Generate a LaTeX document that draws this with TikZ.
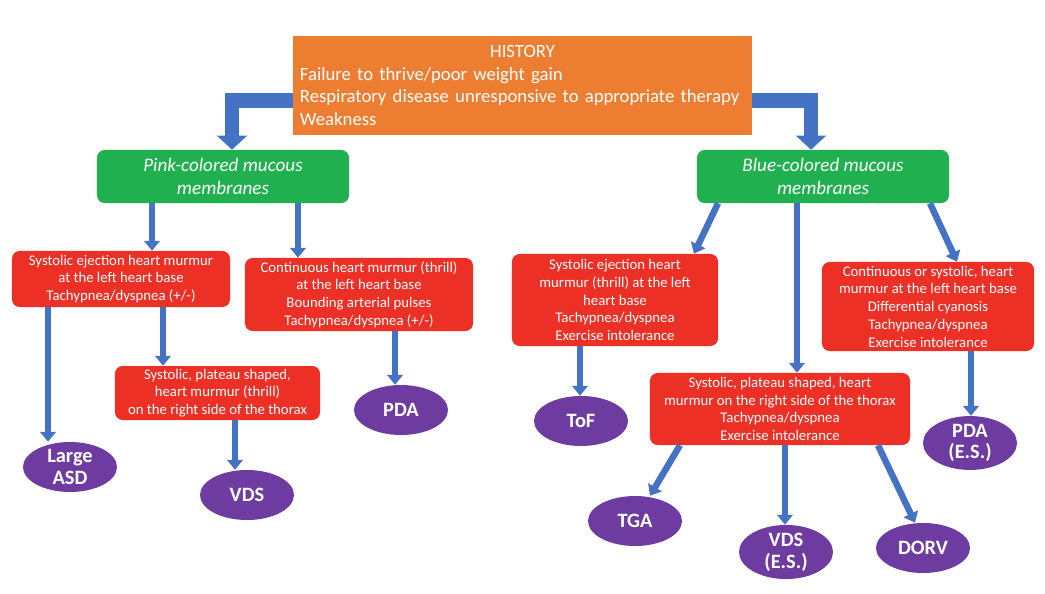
\documentclass[tikz,border=0pt]{standalone}
\usepackage{fontspec}
\setmainfont{Carlito}
\usetikzlibrary{arrows.meta,shapes.geometric,calc}
\definecolor{histo}{RGB}{237,125,49}
\definecolor{mucg}{RGB}{33,176,80}
\definecolor{murr}{RGB}{236,48,38}
\definecolor{dxp}{RGB}{110,60,160}
\definecolor{arrb}{RGB}{68,114,196}

\begin{document}
\begin{tikzpicture}[x=0.025cm, y=-0.025cm,
  mucbox/.style={fill=mucg, text=white, rounded corners=5.5pt, align=center,
    minimum width=6.3cm, minimum height=1.325cm, inner sep=0pt,
    font=\fontsize{13.6}{16.4}\selectfont\itshape},
  murbox/.style={fill=murr, text=white, rounded corners=5.5pt, align=center,
    inner sep=0pt, font=\fontsize{10.5}{12.6}\selectfont},
  dx/.style={ellipse, fill=dxp, text=white, align=center, inner sep=0pt,
    minimum width=2.35cm, minimum height=1.25cm,
    font=\fontsize{14.5}{15.5}\selectfont\bfseries},
  flow/.style={draw=arrb, line width=4.6pt, -{Triangle[width=11pt,length=7pt]}},
  bigflow/.style={draw=arrb, line width=10.5pt, -{Triangle[width=21pt,length=10pt]}}]
\useasboundingbox (0,0) rectangle (1045,593);

% history
\node[fill=histo, text=white, text width=11.125cm, align=left, inner sep=0pt,
  minimum width=11.475cm, minimum height=2.475cm,
  font=\fontsize{13.3}{16.2}\selectfont] (hist) at (522.5,85.5)
  {\makebox[\hsize]{HISTORY}\\
   Failure to thrive/poor weight gain\\
   Respiratory disease unresponsive to appropriate therapy\\
   Weakness};

% mucous membranes
\node[mucbox] (pink) at (223,176.5) {Pink-colored mucous\\membranes};
\node[mucbox] (blue) at (823,176.5) {Blue-colored mucous\\membranes};

\draw[bigflow] ($(hist.west)+(0,15)$) -| ($(pink.north)+(9,0)$);
\draw[bigflow] ($(hist.east)+(0,15)$) -| ($(blue.north)+(-12,0)$);

% murmurs
\node[murbox, minimum width=5.45cm, minimum height=1.4cm] (sysL) at (121,279)
  {Systolic ejection heart murmur\\at the left heart base\\Tachypnea/dyspnea (+/-)};
\node[murbox, minimum width=5.7cm, minimum height=1.825cm] (contL) at (359,294.5)
  {Continuous heart murmur (thrill)\\at the left heart base\\Bounding arterial pulses\\Tachypnea/dyspnea (+/-)};
\node[murbox, minimum width=5.125cm, minimum height=1.35cm] (platL) at (217.5,393)
  {Systolic, plateau shaped,\\heart murmur (thrill)\\on the right side of the thorax};
\node[murbox, minimum width=5.15cm, minimum height=2.3cm] (sysR) at (615,300)
  {Systolic ejection heart\\murmur (thrill) at the left\\heart base\\Tachypnea/dyspnea\\Exercise intolerance};
\node[murbox, minimum width=5.3cm, minimum height=2.225cm] (contR) at (928,306.5)
  {Continuous or systolic, heart\\murmur at the left heart base\\Differential cyanosis\\Tachypnea/dyspnea\\Exercise intolerance};
\node[murbox, minimum width=6.5cm, minimum height=1.8cm] (platR) at (780,409)
  {Systolic, plateau shaped, heart\\murmur on the right side of the thorax\\Tachypnea/dyspnea\\Exercise intolerance};

% diagnoses
\foreach \n/\x/\y/\t in {asd/70/467/{Large\\ASD}, vds/247/495/{VDS}, pda/401/410/{PDA},
    tof/581/421/{ToF}, pdaes/970/443/{PDA\\(E.S.)}, tga/635/521/{TGA},
    vdses/786/552/{VDS\\(E.S.)}, dorv/923/548/{DORV}}
  \node[dx] (\n) at (\x,\y) {\t};

\foreach \a/\xa/\b/\xb in {pink/152/sysL/152, pink/298/contL/298, sysL/48/asd/48,
    sysL/163/platL/163, contL/395/pda/395, platL/235/vds/235,
    blue/718/sysR/694, blue/797/platR/797, blue/930/contR/957,
    sysR/580/tof/580, contR/971/pdaes/971, platR/680/tga/650,
    platR/785/vdses/785, platR/878/dorv/915}
  \draw[flow] (\xa,0 |- \a.south) -- (\xb,0 |- \b.north);
\end{tikzpicture}
\end{document}
